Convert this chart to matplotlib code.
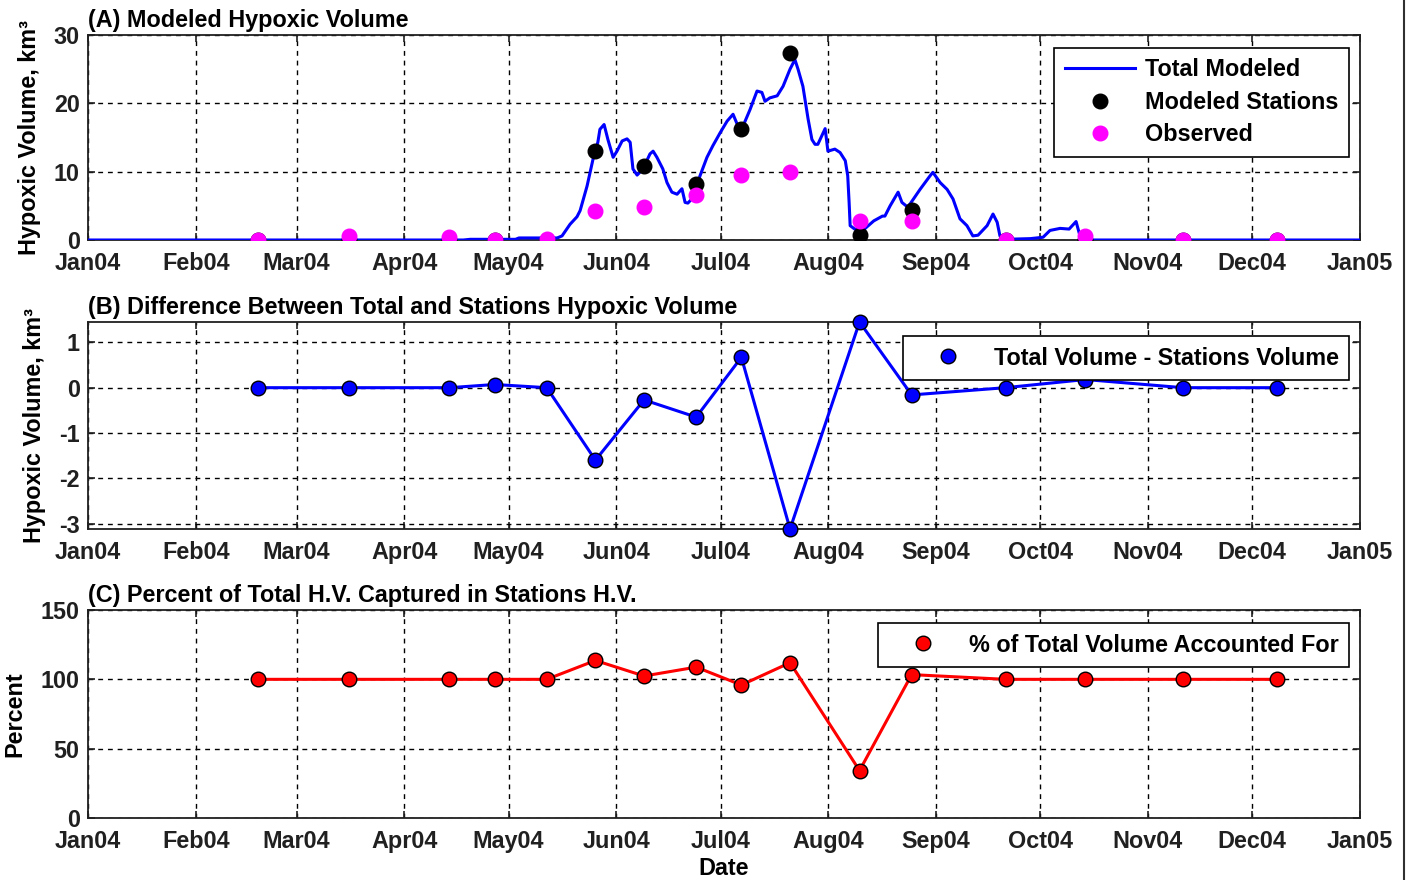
import matplotlib
matplotlib.use('Agg')
import matplotlib.pyplot as plt
import matplotlib.dates as mdates
from matplotlib.lines import Line2D
import datetime as dt

# ---------------- data ----------------
station_dates = ['2004-02-19', '2004-03-16', '2004-04-14', '2004-04-27', '2004-05-12',
                 '2004-05-26', '2004-06-09', '2004-06-24', '2004-07-07', '2004-07-21',
                 '2004-08-10', '2004-08-25', '2004-09-21', '2004-10-14', '2004-11-11',
                 '2004-12-08']
modeled_stations = [0, 0, 0, 0, 0, 13.0, 10.85, 8.2, 16.2, 27.3, 0.8, 4.4, 0, 0, 0, 0]
observed = [0, 0.6, 0.4, 0, 0.1, 4.2, 4.9, 6.6, 9.5, 10.0, 2.8, 2.8, 0, 0.6, 0, 0]
difference = [0, 0, 0, 0.07, 0, -1.6, -0.27, -0.65, 0.67, -3.12, 1.45, -0.16, 0, 0.18, 0, 0]
percent = [100, 100, 100, 100, 100, 113.6, 102.4, 108.8, 95.9, 112.0, 34.2, 103.4,
           100, 100, 100, 100]

# total modeled hypoxic volume: day of year 2004 (0 = Jan 1) and km^3
total_day = [0, 108, 110, 123, 124, 135, 136.4, 138.7, 140.7, 141.6, 143.6, 145.3,
             146.7, 147.3, 148.5, 149.6, 151.1, 152.2, 153.7, 155.1, 156.0, 156.8,
             158.0, 159.7, 161.7, 162.6, 163.7, 165.4, 166.6, 168.0, 169.5, 170.9,
             171.8, 172.6, 174.1, 176.1, 178.1, 179.8, 181.9, 183.9, 185.6, 187.0,
             188.5, 190.5, 192.5, 193.9, 194.8, 196.2, 198.3, 200.0, 202.0, 203.4,
             204.3, 205.7, 207.2, 208.3, 209.2, 210.0, 212.1, 212.9, 214.9, 216.4,
             217.9, 218.6, 219.0, 219.3, 220.6, 223.4, 226.1, 228.6, 229.3, 230.8,
             233.1, 234.2, 235.9, 239.4, 242.3, 243.1, 245.2, 247.2, 248.9, 250.9,
             252.9, 254.6, 256.1, 258.7, 260.4, 261.6, 262.4, 263.9, 271.1, 274.8,
             276.8, 279.7, 282.3, 284.3, 285.7, 286.9, 366]
total_vol = [0, 0, 0.1, 0.1, 0.3, 0.3, 0.6, 2.3, 3.4, 4.3, 7.9, 11.8,
             14.3, 16.2, 16.9, 14.7, 12.1, 13.0, 14.5, 14.8, 14.3, 10.4,
             9.5, 10.4, 12.6, 13.0, 12.1, 10.4, 8.4, 7.0, 6.7, 7.5,
             5.5, 5.4, 6.2, 9.4, 12.1, 13.8, 15.7, 17.4, 18.4, 16.7,
             16.7, 19.1, 21.8, 21.6, 20.3, 20.8, 21.1, 22.5, 25.0, 26.4,
             25.0, 22.5, 17.7, 14.7, 14.0, 14.0, 16.3, 13.0, 13.3, 12.8,
             11.6, 9.4, 5.5, 2.1, 1.6, 1.6, 2.8, 3.5, 3.5, 5.0,
             7.0, 5.5, 4.8, 7.4, 9.4, 9.9, 8.4, 7.4, 6.0, 3.1,
             2.1, 0.6, 0.7, 2.1, 3.8, 2.6, 0.6, 0.1, 0.2, 0.4,
             1.4, 1.7, 1.6, 2.7, 0.1, 0, 0]

month_labels = ['Jan04', 'Feb04', 'Mar04', 'Apr04', 'May04', 'Jun04', 'Jul04',
                'Aug04', 'Sep04', 'Oct04', 'Nov04', 'Dec04', 'Jan05']

# ---------------- style ----------------
plt.rcParams['font.family'] = ['Liberation Sans', 'DejaVu Sans']
plt.rcParams['font.weight'] = 'bold'
plt.rcParams['axes.labelweight'] = 'bold'
plt.rcParams['axes.titleweight'] = 'bold'
plt.rcParams['axes.unicode_minus'] = False
FS = 16.8

base = dt.datetime(2004, 1, 1)
sdates = [dt.datetime.strptime(s, '%Y-%m-%d') for s in station_dates]
tdates = [base + dt.timedelta(days=d) for d in total_day]
month_ticks = [dt.datetime(2004 + (m // 12), m % 12 + 1, 1) for m in range(13)]

fig = plt.figure(figsize=(14.12, 8.8), dpi=100)
W, H = 1412.0, 880.0


def make_ax(top, bottom):
    l = 88 / W
    r = 1360 / W
    return fig.add_axes([l, 1 - bottom / H, r - l, (bottom - top) / H])


axA = make_ax(35, 240)
axB = make_ax(322, 529)
axC = make_ax(610, 818)

for ax in (axA, axB, axC):
    ax.set_xlim(base, dt.datetime(2005, 1, 1))
    ax.set_xticks(month_ticks)
    ax.set_xticklabels(month_labels)
    ax.tick_params(axis='both', direction='in', length=5, width=1.2,
                   top=True, right=True, labelsize=FS, colors='#202020')
    ax.tick_params(axis='x', pad=8.5)
    ax.tick_params(axis='y', pad=6)
    ax.grid(True, linestyle=(0, (3.5, 3.5)), color='black', linewidth=1.0)
    for sp in ax.spines.values():
        sp.set_linewidth(1.3)
        sp.set_color('#202020')
    for lab in ax.get_xticklabels() + ax.get_yticklabels():
        lab.set_fontweight('bold')

leg_kw = dict(loc='upper right', borderaxespad=0, fontsize=FS, handlelength=3.0,
              handletextpad=0.45, borderpad=0.45, fancybox=False, framealpha=1,
              edgecolor='black')

# ---------------- panel A ----------------
axA.plot(tdates, total_vol, color='#0000ff', lw=2.2, zorder=3)
axA.plot(sdates, modeled_stations, 'o', color='black', ms=10.5, zorder=4)
axA.plot(sdates, observed, 'o', color='#ff00ff', ms=10.5, zorder=5)
axA.set_ylim(0, 30)
axA.set_yticks([0, 10, 20, 30])
axA.set_title('(A) Modeled Hypoxic Volume', loc='left', fontsize=FS, pad=6)
axA.set_ylabel('Hypoxic Volume, km³', fontsize=FS, labelpad=9)
hA = [Line2D([], [], color='#0000ff', lw=2.2),
      Line2D([], [], ls='none', marker='o', color='black', ms=10.5),
      Line2D([], [], ls='none', marker='o', color='#ff00ff', ms=10.5)]
legA = axA.legend(hA, ['Total Modeled', 'Modeled Stations', 'Observed'],
                  bbox_to_anchor=(0.9914, 0.937), labelspacing=0.4, **leg_kw)
legA.get_frame().set_linewidth(1.2)

# ---------------- panel B ----------------
axB.plot(sdates, difference, '-o', color='#0000ff', lw=2.2, ms=10.5,
         markeredgecolor='black', markerfacecolor='#0000ff', zorder=3, clip_on=False)
axB.set_ylim(min(difference), max(difference))
axB.set_yticks([-3, -2, -1, 0, 1])
axB.set_title('(B) Difference Between Total and Stations Hypoxic Volume', loc='left',
              fontsize=FS, pad=6)
axB.set_ylabel('Hypoxic Volume, km³', fontsize=FS, labelpad=9)
hB = [Line2D([], [], ls='none', marker='o', markerfacecolor='#0000ff',
             markeredgecolor='black', ms=10.5)]
legB = axB.legend(hB, ['Total Volume - Stations Volume'],
                  bbox_to_anchor=(0.9914, 0.932), **leg_kw)
legB.get_frame().set_linewidth(1.2)

# ---------------- panel C ----------------
axC.plot(sdates, percent, '-o', color='#ff0000', lw=2.2, ms=10.5,
         markeredgecolor='black', markerfacecolor='#ff0000', zorder=3)
axC.set_ylim(0, 150)
axC.set_yticks([0, 50, 100, 150])
axC.set_title('(C) Percent of Total H.V. Captured in Stations H.V.', loc='left',
              fontsize=FS, pad=6)
axC.set_ylabel('Percent', fontsize=FS, labelpad=10)
axC.set_xlabel('Date', fontsize=FS, labelpad=3)
hC = [Line2D([], [], ls='none', marker='o', markerfacecolor='#ff0000',
             markeredgecolor='black', ms=10.5)]
legC = axC.legend(hC, ['% of Total Volume Accounted For'],
                  bbox_to_anchor=(0.9914, 0.9375), **leg_kw)
legC.get_frame().set_linewidth(1.2)

# right-hand border of the original figure frame
fig.add_artist(Line2D([1404 / W, 1404 / W], [0, 1], transform=fig.transFigure,
                      color='#303030', lw=1.5))

fig.savefig('out.png', dpi=100, facecolor='white')
